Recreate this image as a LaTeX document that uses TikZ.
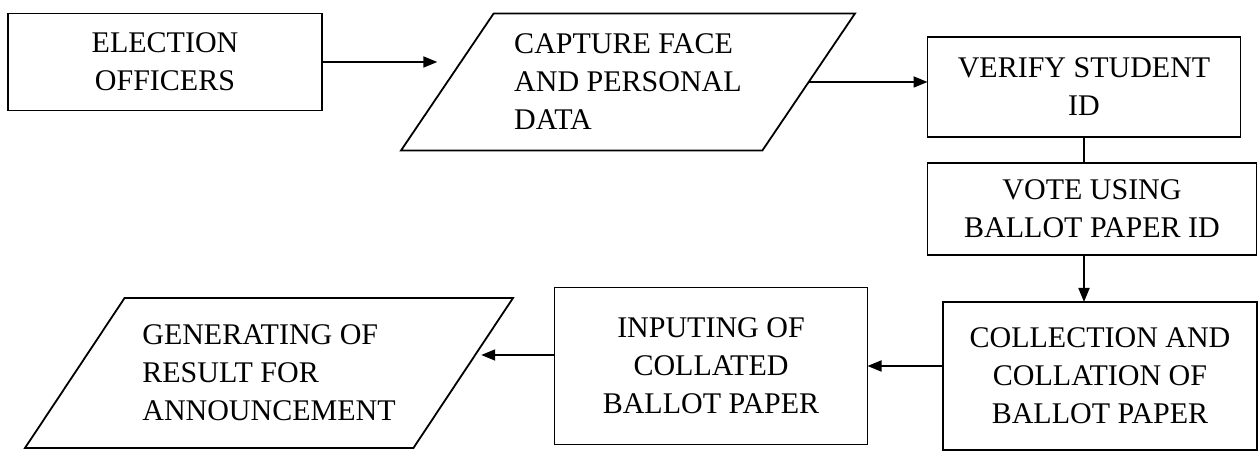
\documentclass[tikz,border=0pt]{standalone}
\usepackage{fontspec}
\setmainfont{Liberation Serif}
\usetikzlibrary{shapes.geometric, arrows.meta}

\begin{document}
\begin{tikzpicture}[x=0.5pt, y=-0.5pt, line width=0.9pt,
    proc/.style={draw, rectangle, inner sep=0pt, outer sep=0pt, align=center,
        font=\fontsize{15}{19}\selectfont},
    io/.style={draw, trapezium, trapezium left angle=#1, trapezium right angle=180-#1,
        trapezium stretches body, inner sep=0pt, outer sep=0pt, align=left,
        font=\fontsize{15}{19}\selectfont},
    arrow/.style={-{Triangle[length=7pt, width=5.5pt]}}]
    % Kích thước: 1 px = 0.5 pt
    \useasboundingbox (0,0) rectangle (1259,458);

    % Hàng trên
    \node[proc, minimum width=157pt, minimum height=48.5pt] (off) at (165,62)
        {ELECTION\\OFFICERS};
    \node[io=46, minimum width=227pt, minimum height=68.5pt] (cap) at (628,82)
        {CAPTURE FACE\\AND PERSONAL\\DATA};
    \node[proc, minimum width=156.5pt, minimum height=50pt] (ver) at (1084,87)
        {VERIFY STUDENT\\ID};

    % Cột phải
    \node[proc, minimum width=164.5pt, minimum height=46pt] (vote) at (1092,209)
        {VOTE USING\\BALLOT PAPER ID};
    \node[proc, minimum width=157pt, minimum height=74pt] (coll) at (1100,376)
        {COLLECTION AND\\COLLATION OF\\BALLOT PAPER};

    % Hàng dưới
    \node[proc, minimum width=156.5pt, minimum height=78.5pt] (inp) at (711,366)
        {INPUTING OF\\COLLATED\\BALLOT PAPER};
    \node[io=44, minimum width=244pt, minimum height=75pt] (gen) at (269,373)
        {GENERATING OF\\RESULT FOR\\ANNOUNCEMENT};

    % Mũi tên
    \draw[arrow] (off.east) -- ([xshift=-5pt]off.east -| cap.west);
    \draw[arrow] (cap.east) -- (cap.east -| ver.west);
    \draw (ver.south) -- (ver.south |- vote.north);
    \draw[arrow] (ver.south |- vote.south) -- (ver.south |- coll.north);
    \draw[arrow] (inp.east -| coll.west) -- (inp.east);
    \draw[arrow] ([yshift=5.5pt]inp.west) -- ([xshift=9pt, yshift=5.5pt]gen.east |- inp.west);

\end{tikzpicture}
\end{document}
